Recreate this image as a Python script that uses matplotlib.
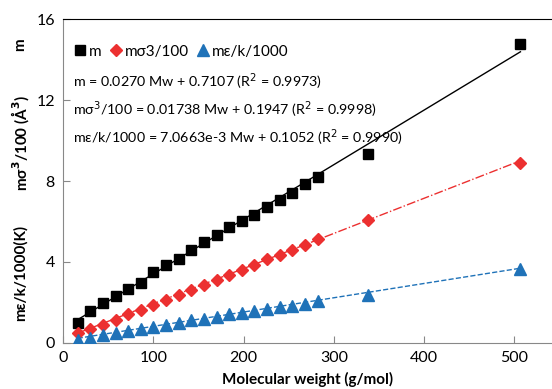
import matplotlib

matplotlib.use("Agg")
import matplotlib.pyplot as plt
import numpy as np

plt.rcParams["font.family"] = ["Lato", "DejaVu Sans"]

# molecular weight of the n-alkanes (g/mol)
mw = [16, 30, 44, 58, 72, 86, 100, 114, 128, 142, 156, 170, 184, 198, 212,
      226, 240, 254, 268, 282, 338, 507]
m = [0.99, 1.56, 1.96, 2.29, 2.64, 2.98, 3.48, 3.83, 4.12, 4.57, 4.97, 5.31,
     5.72, 6.02, 6.32, 6.71, 7.04, 7.42, 7.84, 8.20, 9.35, 14.80]
msig3 = [0.48, 0.66, 0.90, 1.14, 1.40, 1.61, 1.86, 2.11, 2.36, 2.62, 2.85, 3.12,
         3.33, 3.58, 3.84, 4.12, 4.34, 4.60, 4.83, 5.11, 6.05, 8.90]
meps = [0.12, 0.25, 0.37, 0.49, 0.58, 0.68, 0.80, 0.90, 0.99, 1.10, 1.19, 1.29,
        1.40, 1.48, 1.57, 1.65, 1.75, 1.83, 1.94, 2.04, 2.36, 3.66]

# linear fits shown on the chart: (slope, intercept)
fit_m = (0.0270, 0.7107)
fit_sig = (0.01738, 0.1947)
fit_eps = (7.0663e-3, 0.1052)
eq_texts = [
    "m = 0.0270 Mw + 0.7107 (R$^2$ = 0.9973)",
    "m\u03c3$^3$/100 = 0.01738 Mw + 0.1947 (R$^2$ = 0.9998)",
    "m\u03b5/k/1000 = 7.0663e-3 Mw + 0.1052 (R$^2$ = 0.9990)",
]

RED = "#ec3030"
BLUE = "#1f72b8"

fig = plt.figure(figsize=(5.52, 3.89), dpi=100)
ax = fig.add_axes([0.1147, 0.119, 0.8853, 0.831])

xfit = np.array([mw[0], mw[-1]])
ax.plot(xfit, np.polyval(fit_m, xfit), color="black", lw=1.0, zorder=2)
ax.plot(xfit, np.polyval(fit_sig, xfit), color=RED, lw=1.0, ls="-.", zorder=2)
ax.plot(xfit, np.polyval(fit_eps, xfit), color=BLUE, lw=1.0, ls="--", zorder=2)

h1, = ax.plot(mw, m, "s", color="black", ms=7.5, ls="none", label="m", zorder=3)
h2, = ax.plot(mw, msig3, "D", color=RED, ms=6.3, ls="none", label="m\u03c33/100", zorder=3)
h3, = ax.plot(mw, meps, "^", color=BLUE, ms=8.5, ls="none", label="m\u03b5/k/1000", zorder=3)

ax.set_xlim(0, 542)
ax.set_ylim(0, 16)
ax.set_xticks([0, 100, 200, 300, 400, 500])
ax.set_yticks([0, 4, 8, 12, 16])
ax.tick_params(direction="in", length=5, color="#888888", labelsize=11.5, pad=6)
ax.spines["right"].set_visible(False)
ax.spines["left"].set_color("#888888")
ax.spines["bottom"].set_color("#888888")
ax.spines["top"].set_color("black")

ax.legend(handles=[h1, h2, h3], loc="upper left", bbox_to_anchor=(0.0, 0.955),
          ncol=3, frameon=False, fontsize=11, handlelength=0.8, handletextpad=0.2,
          columnspacing=0.5, borderaxespad=0.3)

for i, t in enumerate(eq_texts):
    ax.text(0.02, 0.808 - i * 0.087, t, transform=ax.transAxes, fontsize=10.3,
            va="center", ha="left")

ax.set_xlabel("Molecular weight (g/mol)", fontsize=11, fontweight="bold", labelpad=5)

fig.text(0.037, 0.885, "m", rotation=90, fontsize=11, fontweight="bold",
         ha="center", va="center")
fig.text(0.037, 0.632, "m\u03c3$^\\mathbf{3}$/100 (\u00c5$^\\mathbf{3}$)", rotation=90,
         fontsize=11, fontweight="bold", ha="center", va="center")
fig.text(0.037, 0.298, "m\u03b5/k/1000(K)", rotation=90, fontsize=11,
         fontweight="bold", ha="center", va="center")

fig.savefig("out.png", dpi=100)
